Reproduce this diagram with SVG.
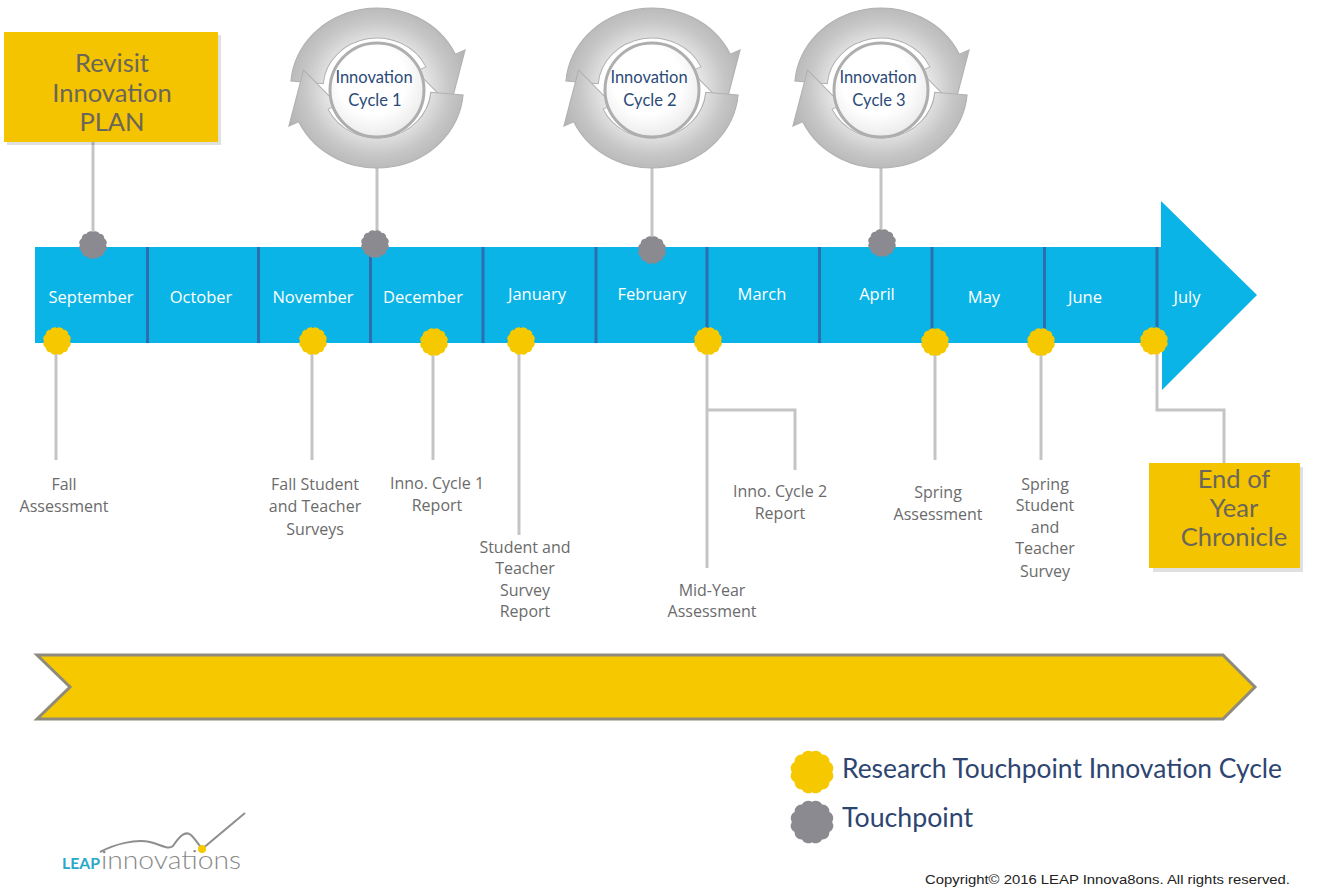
<svg xmlns="http://www.w3.org/2000/svg" xmlns:xlink="http://www.w3.org/1999/xlink" width="1320" height="890" viewBox="0 0 1320 890">
<style>
.month{font-family:"Open Sans",Lato,"Liberation Sans",sans-serif;font-size:16.5px;fill:#ffffff;text-anchor:middle}
.lbl{font-family:"Open Sans",Lato,"Liberation Sans",sans-serif;font-size:16px;fill:#6b6b6b;text-anchor:middle}
.big{font-family:Lato,"Open Sans","Liberation Sans",sans-serif;font-size:25.5px;fill:#6b665a;text-anchor:middle}
.cyc{font-family:Lato,"Open Sans","Liberation Sans",sans-serif;font-size:16.5px;fill:#2b4a78;text-anchor:middle}
.leg{font-family:Lato,"Open Sans","Liberation Sans",sans-serif;font-size:27px;fill:#2d4570}
.conn{stroke:#c4c4c4;stroke-width:3;fill:none}
.div{stroke:#2d6fae;stroke-width:3}
.ring{fill:url(#ringGrad);stroke:#b0b0b0;stroke-width:1}
.disc{fill:url(#discGrad);stroke:#aeaeae;stroke-width:3}
.ybox{fill:#f5c400}
.shadow{fill:#000000;opacity:0.12}
</style>
<defs>
<path id="scallop" d="M13,0 A4.5,4.5 0 0 1 11.258,6.5 A4.5,4.5 0 0 1 6.5,11.258 A4.5,4.5 0 0 1 0,13 A4.5,4.5 0 0 1 -6.5,11.258 A4.5,4.5 0 0 1 -11.258,6.5 A4.5,4.5 0 0 1 -13,0 A4.5,4.5 0 0 1 -11.258,-6.5 A4.5,4.5 0 0 1 -6.5,-11.258 A4.5,4.5 0 0 1 0,-13 A4.5,4.5 0 0 1 6.5,-11.258 A4.5,4.5 0 0 1 11.258,-6.5 A4.5,4.5 0 0 1 13,0 Z"/>
<radialGradient id="ringGrad" gradientUnits="userSpaceOnUse" cx="0" cy="0" r="90">
<stop offset="0.5" stop-color="#e6e6e6"/>
<stop offset="0.75" stop-color="#c6c6c6"/>
<stop offset="1" stop-color="#b2b2b2"/>
</radialGradient>
<radialGradient id="discGrad" cx="0.45" cy="0.4" r="0.6">
<stop offset="0.6" stop-color="#ffffff"/>
<stop offset="1" stop-color="#ececec"/>
</radialGradient>
<g id="cycleArrows">
<path class="ring" d="M-79.70,-6.97 A80,80 0 0 1 72.50,-33.81 L81.57,-38.04 L68,18 L36.25,-16.90 L45.32,-21.13 A50,50 0 0 0 -49.81,-4.36 Z"/>
<path class="ring" d="M79.70,6.97 A80,80 0 0 1 -72.50,33.81 L-81.57,38.04 L-68,-18 L-36.25,16.90 L-45.32,21.13 A50,50 0 0 0 49.81,4.36 Z"/>
</g>
</defs>
<rect width="1320" height="890" fill="#ffffff"/>

<g id="timeline">
<path d="M35,247 H1161 V201 L1257,295 L1162,390 V343 H35 Z" fill="#0ab4e6"/>
<line class="div" x1="147.5" y1="247" x2="147.5" y2="343"/>
<line class="div" x1="258.5" y1="247" x2="258.5" y2="343"/>
<line class="div" x1="370.5" y1="247" x2="370.5" y2="343"/>
<line class="div" x1="483" y1="247" x2="483" y2="343"/>
<line class="div" x1="596" y1="247" x2="596" y2="343"/>
<line class="div" x1="707" y1="247" x2="707" y2="343"/>
<line class="div" x1="819.5" y1="247" x2="819.5" y2="343"/>
<line class="div" x1="932" y1="247" x2="932" y2="343"/>
<line class="div" x1="1044.5" y1="247" x2="1044.5" y2="343"/>
<line class="div" x1="1157" y1="247" x2="1157" y2="343"/>
<text class="month" x="91" y="303">September</text>
<text class="month" x="201" y="303">October</text>
<text class="month" x="313" y="303">November</text>
<text class="month" x="423" y="303">December</text>
<text class="month" x="537" y="300">January</text>
<text class="month" x="652" y="300">February</text>
<text class="month" x="762" y="300">March</text>
<text class="month" x="877" y="300">April</text>
<text class="month" x="984" y="303">May</text>
<text class="month" x="1085" y="303">June</text>
<text class="month" x="1187" y="303">July</text>
</g>

<g id="band">
<path d="M37,655 L1223,655 L1255,687 L1223,719 L37,719 L70,687 Z" fill="#f5c800" stroke="#8e8b7c" stroke-width="3"/>
</g>

<g id="connectors">
<line class="conn" x1="93" y1="142" x2="93" y2="245"/>
<line class="conn" x1="377" y1="138" x2="377" y2="244"/>
<line class="conn" x1="652" y1="138" x2="652" y2="250"/>
<line class="conn" x1="881" y1="138" x2="881" y2="243"/>
<line class="conn" x1="56" y1="341" x2="56" y2="460"/>
<line class="conn" x1="312" y1="341" x2="312" y2="460"/>
<line class="conn" x1="433" y1="341" x2="433" y2="460"/>
<line class="conn" x1="519" y1="341" x2="519" y2="535"/>
<line class="conn" x1="707" y1="341" x2="707" y2="568"/>
<path class="conn" d="M707,410 H795 V470"/>
<line class="conn" x1="935" y1="341" x2="935" y2="460"/>
<line class="conn" x1="1041" y1="341" x2="1041" y2="460"/>
<path class="conn" d="M1157,341 V410 H1224 V463"/>
</g>

<g id="touchpoints-gray" fill="#8a8a90">
<use xlink:href="#scallop" href="#scallop" x="93" y="245"/>
<use xlink:href="#scallop" href="#scallop" x="375" y="244"/>
<use xlink:href="#scallop" href="#scallop" x="652" y="250"/>
<use xlink:href="#scallop" href="#scallop" x="882" y="243"/>
</g>
<g id="touchpoints-yellow" fill="#f5c800">
<use xlink:href="#scallop" href="#scallop" x="57" y="341"/>
<use xlink:href="#scallop" href="#scallop" x="313" y="341"/>
<use xlink:href="#scallop" href="#scallop" x="434" y="342"/>
<use xlink:href="#scallop" href="#scallop" x="521" y="341"/>
<use xlink:href="#scallop" href="#scallop" x="708" y="341"/>
<use xlink:href="#scallop" href="#scallop" x="935" y="342"/>
<use xlink:href="#scallop" href="#scallop" x="1041" y="342"/>
<use xlink:href="#scallop" href="#scallop" x="1154" y="341"/>
</g>

<g id="revisit-plan">
<rect class="shadow" x="7" y="35" width="214" height="110"/>
<rect class="ybox" x="4" y="32" width="214" height="110"/>
<text class="big" x="112" y="72">Revisit</text>
<text class="big" x="112" y="102">Innovation</text>
<text class="big" x="112" y="131">PLAN</text>
</g>

<g id="cycle1" transform="translate(377,88)">
<use xlink:href="#cycleArrows" href="#cycleArrows" transform="scale(1.08,1)"/>
<circle class="disc" cx="0" cy="2" r="47"/>
<text class="cyc" x="-3" y="-5">Innovation</text>
<text class="cyc" x="-2" y="18">Cycle 1</text>
</g>
<g id="cycle2" transform="translate(652,88)">
<use xlink:href="#cycleArrows" href="#cycleArrows" transform="scale(1.08,1)"/>
<circle class="disc" cx="0" cy="2" r="47"/>
<text class="cyc" x="-3" y="-5">Innovation</text>
<text class="cyc" x="-2" y="18">Cycle 2</text>
</g>
<g id="cycle3" transform="translate(881,88)">
<use xlink:href="#cycleArrows" href="#cycleArrows" transform="scale(1.08,1)"/>
<circle class="disc" cx="0" cy="2" r="47"/>
<text class="cyc" x="-3" y="-5">Innovation</text>
<text class="cyc" x="-2" y="18">Cycle 3</text>
</g>

<g id="fall-assessment">
<text class="lbl" x="64" y="490">Fall</text>
<text class="lbl" x="64" y="512">Assessment</text>
</g>
<g id="fall-surveys">
<text class="lbl" x="315" y="490">Fall Student</text>
<text class="lbl" x="315" y="512">and Teacher</text>
<text class="lbl" x="315" y="535">Surveys</text>
</g>
<g id="cycle1-report">
<text class="lbl" x="437" y="489">Inno. Cycle 1</text>
<text class="lbl" x="437" y="511">Report</text>
</g>
<g id="survey-report">
<text class="lbl" x="525" y="553">Student and</text>
<text class="lbl" x="525" y="574">Teacher</text>
<text class="lbl" x="525" y="596">Survey</text>
<text class="lbl" x="525" y="617">Report</text>
</g>
<g id="mid-year">
<text class="lbl" x="712" y="596">Mid-Year</text>
<text class="lbl" x="712" y="617">Assessment</text>
</g>
<g id="cycle2-report">
<text class="lbl" x="780" y="497">Inno. Cycle 2</text>
<text class="lbl" x="780" y="519">Report</text>
</g>
<g id="spring-assessment">
<text class="lbl" x="938" y="498">Spring</text>
<text class="lbl" x="938" y="520">Assessment</text>
</g>
<g id="spring-survey">
<text class="lbl" x="1045" y="490">Spring</text>
<text class="lbl" x="1045" y="511">Student</text>
<text class="lbl" x="1045" y="533">and</text>
<text class="lbl" x="1045" y="554">Teacher</text>
<text class="lbl" x="1045" y="577">Survey</text>
</g>

<g id="end-of-year">
<rect class="shadow" x="1153" y="467" width="150" height="105"/>
<rect class="ybox" x="1149" y="463" width="151" height="105"/>
<text class="big" x="1234" y="488">End of</text>
<text class="big" x="1234" y="517">Year</text>
<text class="big" x="1234" y="546">Chronicle</text>
</g>

<g id="legend">
<use xlink:href="#scallop" href="#scallop" transform="translate(812,772) scale(1.55)" fill="#f5c800"/>
<text class="leg" x="842" y="778" textLength="440" lengthAdjust="spacingAndGlyphs">Research Touchpoint Innovation Cycle</text>
<use xlink:href="#scallop" href="#scallop" transform="translate(812,822) scale(1.55)" fill="#8a8a90"/>
<text class="leg" x="842" y="827" textLength="131" lengthAdjust="spacingAndGlyphs">Touchpoint</text>
</g>

<g id="logo">
<path d="M100,852 C115,844 135,839 150,842 C162,845 168,850 173,846 C179,837 185,830 191,835 C196,840 199,845 202,849 L245,813" fill="none" stroke="#8e8e8e" stroke-width="2"/>
<circle cx="202" cy="849" r="4" fill="#f5c800"/>
<text x="62" y="869" font-family="Lato,'Open Sans','Liberation Sans',sans-serif" font-size="16" font-weight="bold" fill="#2aa8c8" textLength="38" lengthAdjust="spacingAndGlyphs">LEAP</text>
<text x="101" y="869" font-family="Lato,'Open Sans','Liberation Sans',sans-serif" font-size="26" font-weight="300" fill="#8a8a8a" textLength="140" lengthAdjust="spacingAndGlyphs">innovations</text>
</g>

<g id="copyright">
<text x="925" y="884" font-family="'Liberation Sans',Arial,sans-serif" font-size="13" fill="#222222" textLength="365" lengthAdjust="spacingAndGlyphs">Copyright© 2016 LEAP Innova8ons. All rights reserved.</text>
</g>
</svg>
